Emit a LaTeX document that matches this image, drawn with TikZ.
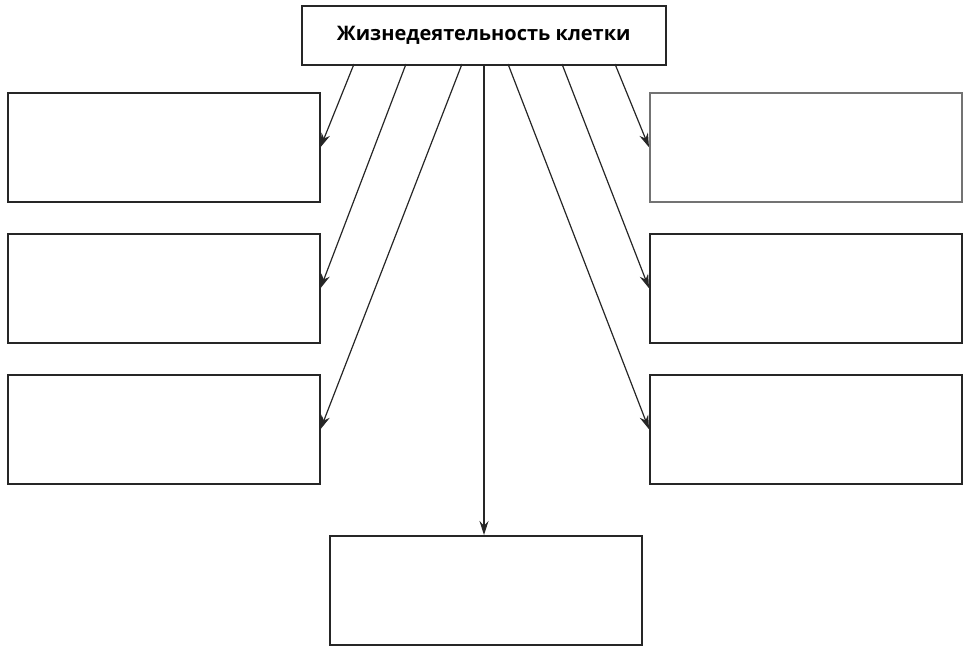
\documentclass[tikz,border=0pt]{standalone}
\usepackage{fontspec}
\setmainfont{Open Sans}
\usetikzlibrary{arrows.meta}
\begin{document}
\begin{tikzpicture}[x=1pt,y=-1pt,
  box/.style={draw=black!85,line width=1.5pt,minimum width=312pt,minimum height=109pt,inner sep=0pt,anchor=north west},
  conn/.style={draw=black!85,line width=1.2pt,-{Stealth[length=14pt,width=9pt]}}]
\useasboundingbox (0,0) rectangle (965,649);
\node[draw=black!85,line width=1.5pt,minimum width=364pt,minimum height=59pt,inner sep=0pt,anchor=north west,font=\bfseries\fontsize{20}{24}\selectfont] (top) at (301,5) {Жизнедеятельность клетки};
\node[box] (l1) at (7,92) {};
\node[box] (l2) at (7,233) {};
\node[box] (l3) at (7,374) {};
\node[box,draw=black!55] (r1) at (649,92) {};
\node[box] (r2) at (649,233) {};
\node[box] (r3) at (649,374) {};
\node[box] (b) at (329,535) {};
\coordinate (s1) at (354,64);
\coordinate (s2) at (406,64);
\coordinate (s3) at (462,64);
\coordinate (s4) at (484,64);
\coordinate (s5) at (508,64);
\coordinate (s6) at (562,64);
\coordinate (s7) at (615,64);
\draw[conn] (s1) -- (l1.east);
\draw[conn] (s2) -- (l2.east);
\draw[conn] (s3) -- (l3.east);
\draw[conn] (s4) -- (b.north -| s4);
\draw[conn] (s5) -- (r3.west);
\draw[conn] (s6) -- (r2.west);
\draw[conn] (s7) -- (r1.west);
\end{tikzpicture}
\end{document}
